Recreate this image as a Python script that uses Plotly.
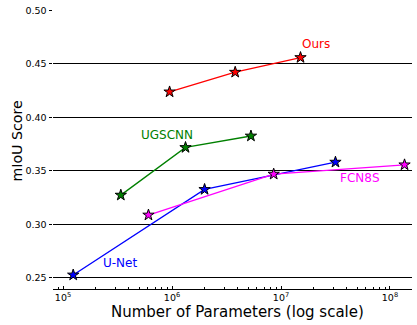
import plotly.graph_objects as go

# Data (number of parameters, mIoU)
ours_params = [9.5e5, 3.8e6, 1.51e7]
ours_miou = [0.4238, 0.4422, 0.4559]

ugscnn_params = [3.39e5, 1.33e6, 5.3e6]
ugscnn_miou = [0.3274, 0.3719, 0.3826]

unet_params = [1.24e5, 1.99e6, 3.16e7]
unet_miou = [0.2528, 0.3327, 0.3582]

fcn_params = [6.08e5, 8.57e6, 1.36e8]
fcn_miou = [0.3088, 0.3470, 0.3557]

series_names = ["Ours", "UGSCNN", "U-Net", "FCN8S"]
series_colors = ["#ff0000", "#008000", "#0000ff", "#ff00ff"]
series_x = [ours_params, ugscnn_params, unet_params, fcn_params]
series_y = [ours_miou, ugscnn_miou, unet_miou, fcn_miou]

# Label anchor positions (log10 params, mIoU)
label_x = [7.321, 5.956, 5.519, 7.721]
label_y = [0.4688, 0.3839, 0.2640, 0.3433]

y_ticks = [0.25, 0.30, 0.35, 0.40, 0.45, 0.50]
x_ticks = [1e5, 1e6, 1e7, 1e8]
x_tick_text = ["10<sup>5</sup>", "10<sup>6</sup>", "10<sup>7</sup>", "10<sup>8</sup>"]
x_minor = [m * 10 ** e for e in range(4, 9) for m in range(2, 10)]

x_title = "Number of Parameters (log scale)"
y_title = "mIoU Score"

FONT = "DejaVu Sans"

fig = go.Figure()
for name, color, xs, ys in zip(series_names, series_colors, series_x, series_y):
    fig.add_trace(go.Scatter(
        x=xs, y=ys, mode="lines+markers", name=name,
        line=dict(color=color, width=1.3),
        marker=dict(symbol="star", size=8.5, color=color,
                    line=dict(color="black", width=1)),
        showlegend=False,
    ))

for name, color, lx, ly in zip(series_names, series_colors, label_x, label_y):
    fig.add_annotation(x=lx, y=ly, xref="x", yref="y", text=name,
                       showarrow=False, font=dict(family=FONT, size=12, color=color))

# axis titles
fig.add_annotation(x=0.515, y=-0.082, xref="paper", yref="paper", text=x_title,
                   showarrow=False, xanchor="center", yanchor="middle",
                   font=dict(family=FONT, size=15, color="black"))
fig.add_annotation(x=-0.099, y=0.53, xref="paper", yref="paper", text=y_title,
                   showarrow=False, xanchor="center", yanchor="middle", textangle=-90,
                   font=dict(family=FONT, size=14.2, color="black"))

fig.update_layout(
    width=417, height=325,
    margin=dict(l=53, r=5, t=10, b=36),
    paper_bgcolor="white", plot_bgcolor="white",
    font=dict(family=FONT, color="black"),
)

fig.update_xaxes(
    type="log", range=[4.908, 8.202],
    showline=True, linecolor="black", linewidth=1, mirror=False,
    ticks="inside", ticklen=3.5, tickwidth=1, tickcolor="black",
    tickmode="array", tickvals=x_ticks, ticktext=x_tick_text,
    tickfont=dict(family=FONT, size=9.5, color="black"),
    minor=dict(tickmode="array", tickvals=x_minor, ticks="inside",
               ticklen=2, tickwidth=0.8, tickcolor="black", showgrid=False),
    showgrid=False, zeroline=False,
)

fig.update_yaxes(
    range=[0.2397, 0.5003],
    showline=False, zeroline=False,
    tickmode="array", tickvals=y_ticks, tickformat=".2f",
    ticks="outside", ticklen=3.5, tickwidth=1, tickcolor="black",
    tickfont=dict(family=FONT, size=9.5, color="black"),
    showgrid=True, gridcolor="black", gridwidth=1,
)

fig.write_html("out.html")
